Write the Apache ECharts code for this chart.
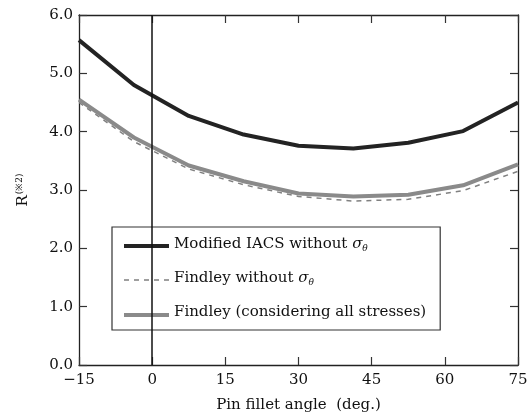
<!DOCTYPE html>
<html><head><meta charset="utf-8">
<script src="https://cdn.jsdelivr.net/npm/echarts@6/dist/echarts.min.js"></script>
<style>html,body{margin:0;padding:0;background:#fff}#c{width:531px;height:418px}</style>
</head><body><div id="c"></div>
<script>
const angles = [-15, -3.75, 7.5, 18.75, 30, 41.25, 52.5, 63.75, 75];
const iacsWithout = [5.57, 4.80, 4.27, 3.95, 3.76, 3.71, 3.81, 4.01, 4.50];
const findleyWithout = [4.50, 3.83, 3.36, 3.09, 2.89, 2.81, 2.84, 2.99, 3.32];
const findleyAll = [4.55, 3.90, 3.42, 3.15, 2.94, 2.89, 2.92, 3.08, 3.44];
const seriesNames = ['Modified IACS without σθ', 'Findley without σθ', 'Findley (considering all stresses)'];

const font = '"DejaVu Serif", "Liberation Serif", serif';
const fs = 15;
const pairs = a => angles.map((x, i) => [x, a[i]]);
const chart = echarts.init(document.getElementById('c'));
const axisCommon = {
  axisLine: {show: true, onZero: false, lineStyle: {color: '#222', width: 1.3}},
  axisTick: {show: true, inside: true, length: 8, lineStyle: {color: '#333', width: 1.2}},
  splitLine: {show: false}
};
const styles = [
  {color: '#232323', width: 4, type: 'solid'},
  {color: '#808080', width: 1.5, type: [5, 5]},
  {color: '#8a8a8a', width: 4, type: 'solid'}
];
chart.setOption({
  animation: false,
  grid: {left: 79, top: 15, right: 13, bottom: 52},
  legend: {
    orient: 'vertical', left: 112, top: 227,
    padding: [10, 14, 7, 10], itemGap: 17, itemWidth: 45, itemHeight: 20,
    borderColor: '#333', borderWidth: 1.2, borderRadius: 0,
    itemStyle: {opacity: 0},
    data: seriesNames.map((n, i) => ({name: n, lineStyle: Object.assign({}, styles[i])})),
    formatter: n => n.replace('σθ', '{s|σ}{t|θ}'),
    textStyle: {fontFamily: font, fontSize: fs, color: '#111', height: 20,
      rich: {s: {fontFamily: font, fontStyle: 'italic', fontSize: fs, color: '#111'},
             t: {fontFamily: font, fontStyle: 'italic', fontSize: 9, color: '#111', verticalAlign: 'bottom', padding: [8, 0, 0, 0]}}}
  },
  xAxis: [
    Object.assign({type: 'value', min: -15, max: 75, interval: 15, position: 'bottom',
      name: 'Pin fillet angle  (deg.)', nameLocation: 'middle', nameGap: 33,
      nameTextStyle: {fontFamily: font, fontSize: fs, color: '#111'},
      axisLabel: {fontFamily: font, fontSize: fs, color: '#111', margin: 8,
        formatter: v => String(v).replace('-', '−')}}, axisCommon),
    Object.assign({type: 'value', min: -15, max: 75, interval: 15, position: 'top', axisLabel: {show: false}}, axisCommon)
  ],
  yAxis: [
    Object.assign({type: 'value', min: 0, max: 6, interval: 1, position: 'left',
      name: '{r|R}{sup|(※2)}', nameLocation: 'middle', nameGap: 47, nameRotate: 90,
      nameTextStyle: {fontFamily: font, fontSize: fs, color: '#111',
        rich: {r: {fontFamily: font, fontSize: fs, color: '#111'},
               sup: {fontFamily: font, fontSize: 9, color: '#111', padding: [0, 0, 8, 1]}}},
      axisLabel: {fontFamily: font, fontSize: fs, color: '#111', margin: 6, formatter: v => v.toFixed(1)}}, axisCommon),
    Object.assign({type: 'value', min: 0, max: 6, interval: 1, position: 'right', axisLabel: {show: false}}, axisCommon)
  ],
  series: [
    {name: seriesNames[0], type: 'line', data: pairs(iacsWithout), symbol: 'none',
     lineStyle: styles[0], itemStyle: {color: styles[0].color}, z: 3,
     markLine: {silent: true, symbol: 'none', label: {show: false},
       lineStyle: {color: '#111', width: 1.5, type: 'solid'}, data: [{xAxis: 0}]}},
    {name: seriesNames[1], type: 'line', data: pairs(findleyWithout), symbol: 'none',
     lineStyle: styles[1], itemStyle: {color: styles[1].color}, z: 2},
    {name: seriesNames[2], type: 'line', data: pairs(findleyAll), symbol: 'none',
     lineStyle: styles[2], itemStyle: {color: styles[2].color}, z: 2}
  ]
});
</script></body></html>
